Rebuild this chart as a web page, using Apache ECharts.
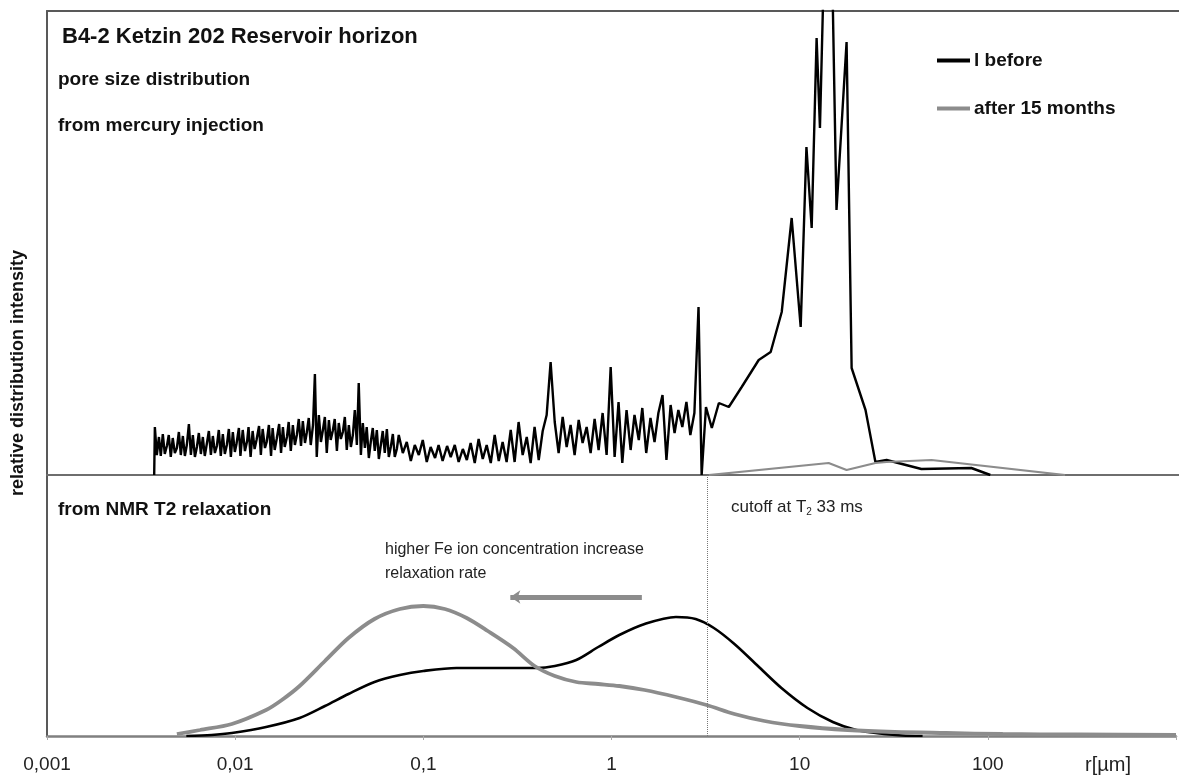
<!DOCTYPE html>
<html>
<head>
<meta charset="utf-8">
<script src="https://cdn.jsdelivr.net/npm/echarts@6/dist/echarts.min.js"></script>
<style>
html,body{margin:0;padding:0;background:#fff;}
#chart{width:1179px;height:778px;}
</style>
</head>
<body>
<div id="chart"></div>
<script>
// ---------- data ----------
const xTickLabels = ['0,001', '0,01', '0,1', '1', '10', '100', ''];

// mercury injection (upper panel), radius in µm and relative intensity
const hgBeforeR = [0.00370, 0.00373,
  0.00382, 0.00392, 0.00401, 0.00411, 0.00421, 0.00432, 0.00442, 0.00453, 0.00464, 0.00476,
  0.00488, 0.00500, 0.00512, 0.00525, 0.00538, 0.00551, 0.00565, 0.00579, 0.00593, 0.00608,
  0.00623, 0.00638, 0.00654, 0.00670, 0.00686, 0.00703, 0.00721, 0.00739, 0.00757, 0.00776,
  0.00795, 0.00814, 0.00834, 0.00855, 0.00876, 0.00898, 0.00920, 0.00943, 0.00966, 0.00990,
  0.0101, 0.0104, 0.0106, 0.0109, 0.0112, 0.0115, 0.0117, 0.0120, 0.0123, 0.0126,
  0.0129, 0.0133, 0.0136, 0.0139, 0.0143, 0.0146, 0.0150, 0.0154, 0.0157, 0.0161,
  0.0165, 0.0170, 0.0174, 0.0178, 0.0182, 0.0187, 0.0191, 0.0196, 0.0201, 0.0206,
  0.0211, 0.0216, 0.0222, 0.0227, 0.0233, 0.0238, 0.0244, 0.0250, 0.0257, 0.0263,
  0.0269, 0.0276, 0.0283, 0.0290, 0.0297, 0.0304, 0.0312, 0.0319, 0.0327, 0.0335,
  0.0344, 0.0352, 0.0361, 0.0370, 0.0379, 0.0388, 0.0398, 0.0408, 0.0418, 0.0428,
  0.0439, 0.0449, 0.0461, 0.0472, 0.0484, 0.0495, 0.0508, 0.0520, 0.0533, 0.0546,
  0.0560, 0.0574, 0.0588, 0.0602, 0.0617, 0.0633, 0.0648, 0.0664, 0.0681, 0.0697,
  0.0715, 0.0732,
  0.0769, 0.0807, 0.0848, 0.0890, 0.0935, 0.0981, 0.103, 0.108, 0.114, 0.119,
  0.125, 0.132, 0.138, 0.145, 0.152, 0.160, 0.168, 0.176, 0.185,
  0.194, 0.204, 0.214, 0.225, 0.236, 0.248, 0.260, 0.273, 0.287, 0.301,
  0.316, 0.332, 0.349, 0.366, 0.384, 0.404, 0.424, 0.445, 0.467, 0.491,
  0.515, 0.541, 0.568, 0.596, 0.626, 0.658, 0.690, 0.725, 0.761, 0.799,
  0.839, 0.881, 0.925, 0.972, 1.02, 1.07, 1.12, 1.18, 1.24, 1.30,
  1.37, 1.43, 1.50, 1.58, 1.66, 1.74, 1.83, 1.92, 2.02, 2.12,
  2.22, 2.33, 2.45, 2.57, 2.70, 2.84, 2.95,
  3.11, 3.34, 3.64, 4.11, 4.81, 5.92, 6.85, 7.84, 8.85, 9.88,
  10.6, 11.3, 12.0, 12.5, 13.9, 15.3, 17.3, 18.4, 21.8, 24.6,
  28.2, 43.1, 79.3, 100];
const hgBeforeI = [0, 48,
  20, 38, 19, 41, 21, 29, 40, 18, 37, 22,
  27, 43, 20, 39, 19, 30, 51, 20, 40, 18,
  28, 42, 21, 38, 19, 31, 44, 20, 39, 22,
  29, 45, 19, 41, 21, 30, 46, 18, 43, 23,
  31, 47, 19, 45, 24, 34, 48, 18, 44, 26,
  35, 49, 20, 46, 27, 33, 50, 19, 47, 25,
  36, 51, 22, 48, 28, 38, 53, 24, 50, 30,
  40, 56, 29, 54, 32, 42, 57, 30, 50, 101,
  18, 60, 33, 45, 58, 22, 55, 35, 44, 56,
  24, 52, 36, 43, 58, 25, 50, 28, 40, 65,
  30, 92, 20, 52, 27, 48, 17, 33, 47, 24,
  45, 16, 30, 44, 22, 46, 18, 28, 41, 18,
  26, 40,
  22, 33, 14, 30, 20, 35, 13, 28, 17, 30,
  14, 29, 18, 30, 13, 26, 15, 32, 12,
  36, 16, 30, 12, 40, 14, 33, 13, 45, 13,
  53, 20, 38, 12, 48, 15, 44, 60, 113, 53,
  22, 58, 28, 50, 20, 55, 32, 48, 22, 56,
  25, 62, 20, 108, 18, 73, 12, 65, 25, 60,
  35, 67, 22, 57, 33, 62, 80, 15, 70, 42,
  65, 48, 73, 40, 62, 168, 0,
  68, 47, 72, 68, 88, 115, 123, 163, 257, 148,
  328, 247, 437, 347, 700, 265, 433, 107, 65, 13,
  15, 6, 7, 0];

const hgAfterR = [3.22, 13.9, 17.3, 24.6, 28.2, 48.8, 249];
const hgAfterI = [0, 12, 5, 12, 13, 15, 0];

// NMR T2 relaxation (lower panel)
const nmrBeforeR = [0.0055, 0.0075, 0.0096, 0.0146, 0.022, 0.03, 0.04, 0.055, 0.075, 0.1,
  0.15, 0.25, 0.4, 0.5, 0.65, 0.85, 1.1, 1.5, 2.2, 2.8,
  3.5, 4.5, 6, 8, 11, 15, 20, 28, 35, 45];
const nmrBeforeI = [0, 1, 3, 9, 18, 30, 42, 54, 61, 65,
  68, 68, 68, 70, 76, 89, 101, 112, 119, 117,
  108, 92, 70, 48, 28, 14, 6, 2, 0.5, 0];

const nmrAfterR = [0.0049, 0.0065, 0.0096, 0.0146, 0.0177, 0.022, 0.03, 0.04, 0.055, 0.075,
  0.1, 0.13, 0.17, 0.22, 0.3, 0.39, 0.5, 0.65, 0.85, 1.1,
  1.5, 2.2, 3.2, 4.5, 6.5, 10, 18, 32, 60, 120, 300, 1000];
const nmrAfterI = [2, 6, 12, 26, 36, 50, 75, 98, 117, 127,
  130, 127, 118, 105, 88, 70, 60, 54, 52, 50,
  46, 39, 31, 22, 15, 10, 6, 4, 3, 2, 1.5, 1];

const cutoffR = 3.22;
const arrowFrom = [1.45, 139];
const arrowTo = [0.29, 139];

// ---------- chart ----------
const pair = (r, v) => r.map((x, i) => [x, v[i]]);
const FONT = '"Liberation Sans", Arial, sans-serif';
const chart = echarts.init(document.getElementById('chart'), null, {renderer: 'canvas'});

const xCommon = {
  type: 'log', logBase: 10, min: 0.001, max: 1000,
  splitLine: {show: false}, minorTick: {show: false}
};
const noAxisBits = {axisTick: {show: false}, axisLabel: {show: false}, splitLine: {show: false}};

chart.setOption({
  animation: false,
  backgroundColor: '#ffffff',
  grid: [
    {left: 47, top: 11, width: 1134, height: 464},
    {left: 47, top: 475, width: 1134, height: 261}
  ],
  xAxis: [
    Object.assign({gridIndex: 0, position: 'bottom', axisLine: {show: true, lineStyle: {color: '#6e6e6e', width: 2}}}, xCommon, noAxisBits),
    Object.assign({
      gridIndex: 1,
      axisLine: {show: true, lineStyle: {color: '#808080', width: 2.5}},
      axisTick: {show: true, length: 4, lineStyle: {color: '#aaaaaa'}},
      axisLabel: {
        show: true, margin: 19, color: '#222', fontSize: 19, fontFamily: FONT,
        formatter: (v, i) => xTickLabels[i] || ''
      }
    }, xCommon),
    Object.assign({gridIndex: 0, position: 'top', axisLine: {show: true, lineStyle: {color: '#595959', width: 2}}}, xCommon, noAxisBits)
  ],
  yAxis: [
    {gridIndex: 0, type: 'value', min: 0, max: 464, axisLine: {show: true, lineStyle: {color: '#595959', width: 2}}, axisTick: {show: false}, axisLabel: {show: false}, splitLine: {show: false}},
    {gridIndex: 1, type: 'value', min: 0, max: 261, axisLine: {show: true, lineStyle: {color: '#595959', width: 2}}, axisTick: {show: false}, axisLabel: {show: false}, splitLine: {show: false}}
  ],
  legend: {
    orient: 'vertical', left: 937, top: 51, itemGap: 29, padding: 0,
    icon: 'rect', itemWidth: 33, itemHeight: 4,
    textStyle: {fontFamily: FONT, fontSize: 19, fontWeight: 'bold', color: '#111', padding: [0, 0, 0, -1]},
    data: ['l before', 'after 15 months']
  },
  series: [
    {name: 'l before', type: 'line', xAxisIndex: 0, yAxisIndex: 0, showSymbol: false, symbol: 'none',
      data: pair(hgBeforeR, hgBeforeI), lineStyle: {color: '#000', width: 2.4}, itemStyle: {color: '#000'}, clip: true},
    {name: 'after 15 months', type: 'line', xAxisIndex: 0, yAxisIndex: 0, showSymbol: false, symbol: 'none',
      data: pair(hgAfterR, hgAfterI), lineStyle: {color: '#8c8c8c', width: 2.2}, itemStyle: {color: '#8c8c8c'}, clip: true},
    {name: 'l before', type: 'line', xAxisIndex: 1, yAxisIndex: 1, showSymbol: false, symbol: 'none', smooth: 0.3,
      data: pair(nmrBeforeR, nmrBeforeI), lineStyle: {color: '#000', width: 2.6}, itemStyle: {color: '#000'},
      markLine: {
        silent: true, symbol: 'none', label: {show: false},
        lineStyle: {color: '#777', width: 1, type: 'dotted'},
        data: [{xAxis: cutoffR}]
      }},
    {name: 'after 15 months', type: 'line', xAxisIndex: 1, yAxisIndex: 1, showSymbol: false, symbol: 'none', smooth: 0.3,
      data: pair(nmrAfterR, nmrAfterI), lineStyle: {color: '#8c8c8c', width: 3.8}, itemStyle: {color: '#8c8c8c'},
      markLine: {
        silent: true, symbol: ['none', 'arrow'], symbolSize: [10, 10], label: {show: false},
        lineStyle: {color: '#8c8c8c', width: 5, type: 'solid'},
        data: [[{coord: arrowFrom}, {coord: arrowTo}]]
      }}
  ],
  graphic: [
    {type: 'text', left: 62, top: 26, style: {text: 'B4-2 Ketzin 202 Reservoir horizon', font: 'bold 22px ' + FONT, fill: '#111'}},
    {type: 'text', left: 58, top: 70, style: {text: 'pore size distribution', font: 'bold 19px ' + FONT, fill: '#111'}},
    {type: 'text', left: 58, top: 116, style: {text: 'from mercury injection', font: 'bold 19px ' + FONT, fill: '#111'}},
    {type: 'text', left: 58, top: 500, style: {text: 'from NMR T2 relaxation', font: 'bold 19px ' + FONT, fill: '#111'}},
    {type: 'text', left: 385, top: 538, style: {text: 'higher Fe ion concentration increase\nrelaxation rate', font: '16px ' + FONT, lineHeight: 24, fill: '#222'}},
    {type: 'text', left: 731, top: 499, style: {
      text: 'cutoff at T{sub|2} 33 ms', font: '17px ' + FONT, fill: '#222',
      rich: {sub: {fontSize: 10, verticalAlign: 'bottom', padding: [9, 0, 0, 0], fill: '#222'}}
    }},
    {type: 'text', left: 1085, top: 755, style: {text: 'r[µm]', font: '20px ' + FONT, fill: '#222'}},
    {type: 'text', x: 18, y: 373, rotation: Math.PI / 2, style: {text: 'relative distribution intensity', font: 'bold 18px ' + FONT, fill: '#111', align: 'center', verticalAlign: 'middle'}}
  ]
});
</script>
</body>
</html>
